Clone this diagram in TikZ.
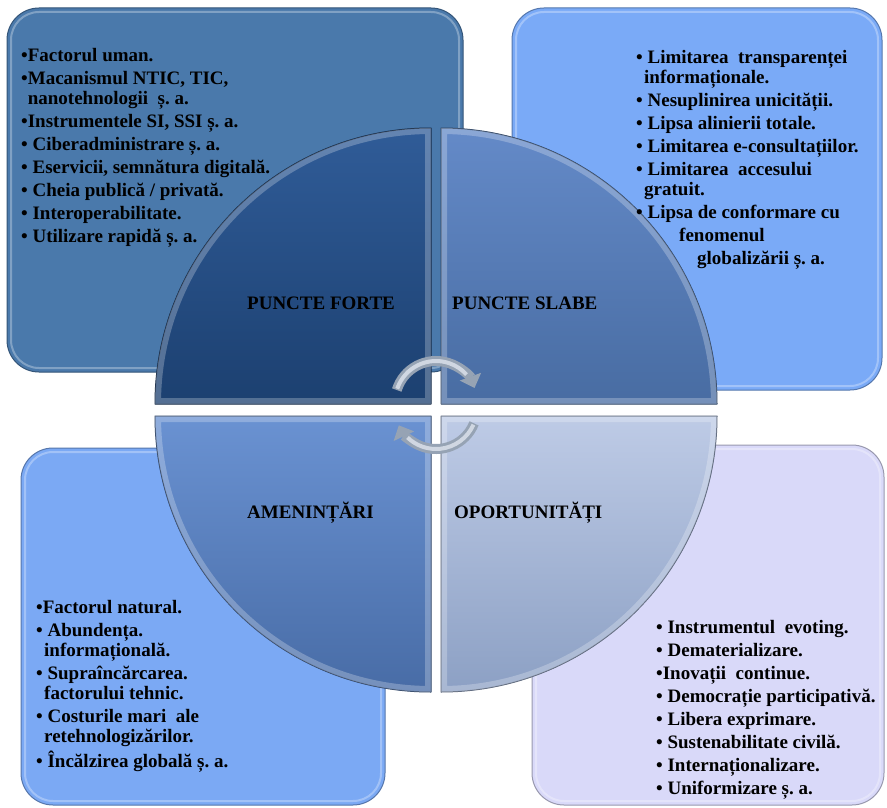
\documentclass[tikz,border=0pt]{standalone}
\usepackage{fontspec}
\setmainfont{Liberation Serif}
\usetikzlibrary{arrows.meta}
\frenchspacing
\definecolor{hopA}{RGB}{74,121,171}
\definecolor{hopB}{RGB}{122,170,247}
\definecolor{hopC}{RGB}{123,169,244}
\definecolor{hopD}{RGB}{217,217,249}
\definecolor{sfA1}{RGB}{48,92,152}   \definecolor{sfA2}{RGB}{28,64,112}
\definecolor{sfB1}{RGB}{100,138,200} \definecolor{sfB2}{RGB}{72,108,162}
\definecolor{sfC1}{RGB}{106,146,210} \definecolor{sfC2}{RGB}{72,108,166}
\definecolor{sfD1}{RGB}{190,203,230} \definecolor{sfD2}{RGB}{140,160,196}
\definecolor{sag}{RGB}{150,163,180}
\definecolor{sagl}{RGB}{208,215,226}
\begin{document}
\begin{tikzpicture}[x=1pt, y=-1pt, line join=round, line cap=round,
    font=\bfseries\fontsize{19}{20}\selectfont,
    lista/.style={anchor=north west, align=left, inner sep=0pt},
    titlu/.style={anchor=base west, inner sep=0pt},
    sageata/.style={line width=10pt, line cap=butt, color=sag, -{Triangle[length=12pt,width=22pt]}}]
    \def\raza{276} % raza cercului
    \useasboundingbox (0,0) rectangle (887,808);
    % cele patru casete
    \foreach \xa/\ya/\xb/\yb/\cl in {7/8/463/372/hopA, 512/8/882/390/hopB, 21/448/385/805/hopC, 532/445/884/805/hopD}{
        \draw[rounded corners=32pt, fill=\cl, draw=\cl!70!black, line width=1pt] (\xa,\ya) rectangle (\xb,\yb);
        \draw[rounded corners=28pt, white, opacity=.3, line width=2pt] (\xa+4,\ya+4) rectangle (\xb-4,\yb-4);
    }
    % sferturile de cerc
    \foreach \qx/\qy/\s/\ca/\cb in {431/404/180/sfA1/sfA2, 441/404/270/sfB1/sfB2, 441/416/0/sfD1/sfD2, 431/416/90/sfC1/sfC2}{
        \draw[top color=\ca, bottom color=\cb, draw=\cb!60!black, line width=1pt]
            (\qx,\qy) -- ++(\s:\raza) arc[start angle=\s, delta angle=90, radius=\raza] -- cycle;
        \begin{scope}
            \clip (\qx,\qy) -- ++(\s:\raza) arc[start angle=\s, delta angle=90, radius=\raza] -- cycle;
            \draw[white, opacity=.25, line width=12pt] (\qx,\qy) -- ++(\s:\raza) arc[start angle=\s, delta angle=90, radius=\raza] -- cycle;
        \end{scope}
    }
    \node[titlu] (pf) at (247,309) {PUNCTE FORTE};
    \node[titlu] (ps) at (452,309) {PUNCTE SLABE};
    \node[titlu] (am) at (247,518) {AMENINȚĂRI};
    \node[titlu] (op) at (454,518) {OPORTUNITĂȚI};
    % sagetile din centru
    \draw[sageata] ([shift={(197:41)}]436,402) arc[start angle=197, end angle=340, radius=41];
    \draw[line width=4pt, line cap=butt, sagl] ([shift={(199:41)}]436,402) arc[start angle=199, end angle=318, radius=41];
    \draw[sageata] ([shift={(22:41)}]436,408) arc[start angle=22, end angle=155, radius=41];
    \draw[line width=4pt, line cap=butt, sagl] ([shift={(24:41)}]436,408) arc[start angle=24, end angle=134, radius=41];
    % textele
    \node[lista] (tpf) at (21,48) {•Factorul uman.\\[3pt]
        •Macanismul NTIC, TIC,\\
        \phantom{•}nanotehnologii\ \ ș. a.\\[3pt]
        •Instrumentele SI, SSI ș. a.\\[3pt]
        • Ciberadministrare ș. a.\\[3pt]
        • Eservicii, semnătura digitală.\\[3pt]
        • Cheia publică / privată.\\[3pt]
        • Interoperabilitate.\\[3pt]
        • Utilizare rapidă ș. a.};
    \node[lista] (tps) at (636,50) {• Limitarea\ \ transparenței\\
        \hspace*{8pt}informaționale.\\[3pt]
        • Nesuplinirea unicității.\\[3pt]
        • Lipsa alinierii totale.\\[3pt]
        • Limitarea e-consultațiilor.\\[3pt]
        • Limitarea\ \ accesului\\
        \hspace*{8pt}gratuit.\\[3pt]
        • Lipsa de conformare cu\\[3pt]
        \hspace*{43pt}fenomenul\\[3pt]
        \hspace*{61pt}globalizării ș. a.};
    \node[lista] (tam) at (36,600) {•Factorul natural.\\[3pt]
        • Abundența.\\
        \hspace*{8pt}informațională.\\[3pt]
        • Supraîncărcarea.\\
        \hspace*{8pt}factorului tehnic.\\[3pt]
        • Costurile mari\ \ ale\\
        \hspace*{8pt}retehnologizărilor.\\[3pt]
        • Încălzirea globală ș. a.};
    \node[lista] (top) at (656,620) {• Instrumentul\ \ evoting.\\[3pt]
        • Dematerializare.\\[3pt]
        •Inovații\ \ continue.\\[3pt]
        • Democrație participativă.\\[3pt]
        • Libera exprimare.\\[3pt]
        • Sustenabilitate civilă.\\[3pt]
        • Internaționalizare.\\[3pt]
        • Uniformizare ș. a.};
\end{tikzpicture}
\end{document}
